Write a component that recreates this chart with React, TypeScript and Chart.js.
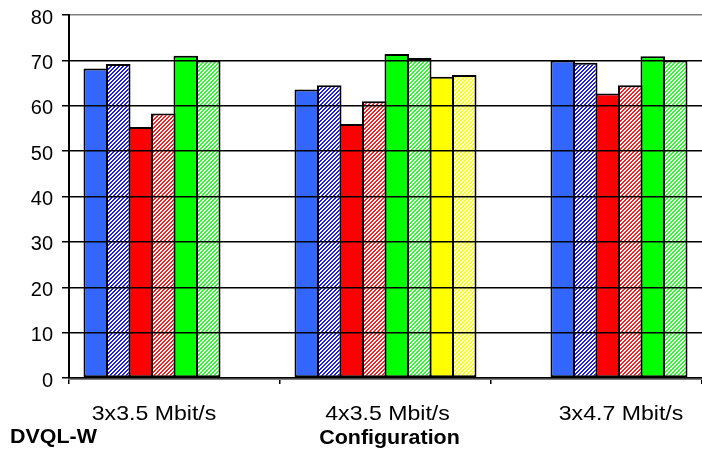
import React, { useEffect, useRef } from "react";
import { Chart, registerables } from "chart.js";

Chart.register(...registerables);

const categories = ["3x3.5 Mbit/s", "4x3.5 Mbit/s", "3x4.7 Mbit/s"];
const yMin = 0;
const yMax = 80;
const yStep = 10;

const blueSolid = [68.2, 63.6, 70.0];
const blueHatch = [69.2, 64.5, 69.5];
const redSolid = [55.3, 56.0, 62.7];
const redHatch = [58.3, 61.0, 64.5];
const greenSolid = [71.0, 71.4, 70.9];
const greenHatch = [70.0, 70.5, 70.0];
const yellowSolid = [null, 66.4, null];
const yellowHatch = [null, 66.8, null];

const series = [blueSolid, blueHatch, redSolid, redHatch, greenSolid, greenHatch, yellowSolid, yellowHatch];
const seriesColors = ["#3366ff", "#1a1aff", "#ff0000", "#ff1a1a", "#00ff00", "#22ff22", "#ffff00", "#ffff00"];
const seriesHatched = [false, true, false, true, false, true, false, true];
// slot offset of each category's bars (third group sits to the right in the original)
const slotShift = [0, 0, 2];

const axisTitle = "Configuration";
const cornerLabel = "DVQL-W";

const FONT = "'Liberation Sans', Arial, Helvetica, sans-serif";

function makeHatch(color: string): CanvasPattern | string {
  const c = document.createElement("canvas");
  c.width = 4;
  c.height = 4;
  const g = c.getContext("2d");
  if (!g) return color;
  g.fillStyle = "#ffffff";
  g.fillRect(0, 0, 4, 4);
  g.fillStyle = color;
  for (let y = 0; y < 4; y++) {
    for (let x = 0; x < 4; x++) {
      if ((x + y) % 4 < 2) g.fillRect(x, y, 1, 1);
    }
  }
  const p = g.createPattern(c, "repeat");
  return p || color;
}

function drawStretched(ctx: CanvasRenderingContext2D, text: string, x: number, y: number, sx: number) {
  ctx.save();
  ctx.translate(x, y);
  ctx.scale(sx, 1);
  ctx.fillText(text, 0, 0);
  ctx.restore();
}

const labelPlugin = {
  id: "groupLabels",
  afterDraw(chart: any) {
    const ctx: CanvasRenderingContext2D = chart.ctx;
    const area = chart.chartArea;
    const centers = categories.map((_, c) => {
      let lo = Infinity;
      let hi = -Infinity;
      chart.data.datasets.forEach((ds: any, i: number) => {
        if (ds.data[c] == null) return;
        const el: any = chart.getDatasetMeta(i).data[c];
        if (!el) return;
        lo = Math.min(lo, el.x - el.width / 2);
        hi = Math.max(hi, el.x + el.width / 2);
      });
      return (lo + hi) / 2;
    });
    ctx.save();
    ctx.fillStyle = "#000000";
    ctx.textBaseline = "alphabetic";
    ctx.textAlign = "center";
    ctx.font = `21px ${FONT}`;
    categories.forEach((t, c) => drawStretched(ctx, t, centers[c] + 2, area.bottom + 42, 1.1));
    ctx.font = `bold 19.5px ${FONT}`;
    drawStretched(ctx, axisTitle, centers[1] + 4, area.bottom + 66, 1.1);
    ctx.textAlign = "left";
    drawStretched(ctx, cornerLabel, 10, area.bottom + 65, 1.1);
    ctx.restore();
  },
};

export default function App() {
  const ref = useRef<HTMLCanvasElement | null>(null);

  useEffect(() => {
    if (!ref.current) return;
    const fills = series.map((_, s) => (seriesHatched[s] ? makeHatch(seriesColors[s]) : seriesColors[s]));
    const datasets = series.map((_, k) => {
      const data: (number | null)[] = [];
      const bg: any[] = [];
      categories.forEach((__, c) => {
        const s = k - slotShift[c];
        const v = s >= 0 && s < series.length ? series[s][c] : null;
        data.push(v);
        bg.push(s >= 0 && s < series.length ? fills[s] : "#ffffff");
      });
      return {
        label: `s${k}`,
        data,
        backgroundColor: bg,
        borderColor: "#000000",
        borderWidth: 2,
        borderSkipped: false,
        barPercentage: 1.09,
        categoryPercentage: 0.853,
      };
    });

    const chart = new Chart(ref.current, {
      type: "bar",
      data: { labels: categories, datasets: datasets as any },
      options: {
        animation: false,
        responsive: true,
        maintainAspectRatio: false,
        layout: { padding: { left: 0, right: 0, top: 15, bottom: 0 } },
        plugins: {
          legend: { display: false },
          tooltip: { enabled: false },
        },
        scales: {
          x: {
            offset: true,
            grid: {
              display: true,
              drawOnChartArea: false,
              drawTicks: true,
              tickLength: 6,
              color: "#000000",
              lineWidth: 1.5,
              offset: true,
            },
            ticks: { display: false },
            border: { color: "#808080", width: 3 },
            afterFit: (s: any) => {
              s.height = 72;
              s.paddingLeft = 0;
              s.paddingRight = 0;
            },
          },
          y: {
            min: yMin,
            max: yMax,
            ticks: {
              stepSize: yStep,
              color: "#000000",
              font: { family: FONT, size: 20 },
              padding: 9,
              labelOffset: 3,
            },
            grid: {
              z: 1,
              color: (ctx: any) => (ctx.tick && ctx.tick.value === yMax ? "#808080" : "#000000"),
              lineWidth: 1.5,
              tickLength: 7,
              tickColor: "#000000",
              tickWidth: 1.5,
            },
            border: { color: "#000000", width: 2, z: 1 },
            afterFit: (s: any) => {
              s.width = 69;
              s.paddingTop = 0;
              s.paddingBottom = 0;
            },
          },
        },
      },
      plugins: [labelPlugin],
    });
    return () => chart.destroy();
  }, []);

  return (
    <div style={{ position: "fixed", left: 0, top: 0, width: 702, height: 450, background: "#ffffff" }}>
      <canvas ref={ref} />
    </div>
  );
}
